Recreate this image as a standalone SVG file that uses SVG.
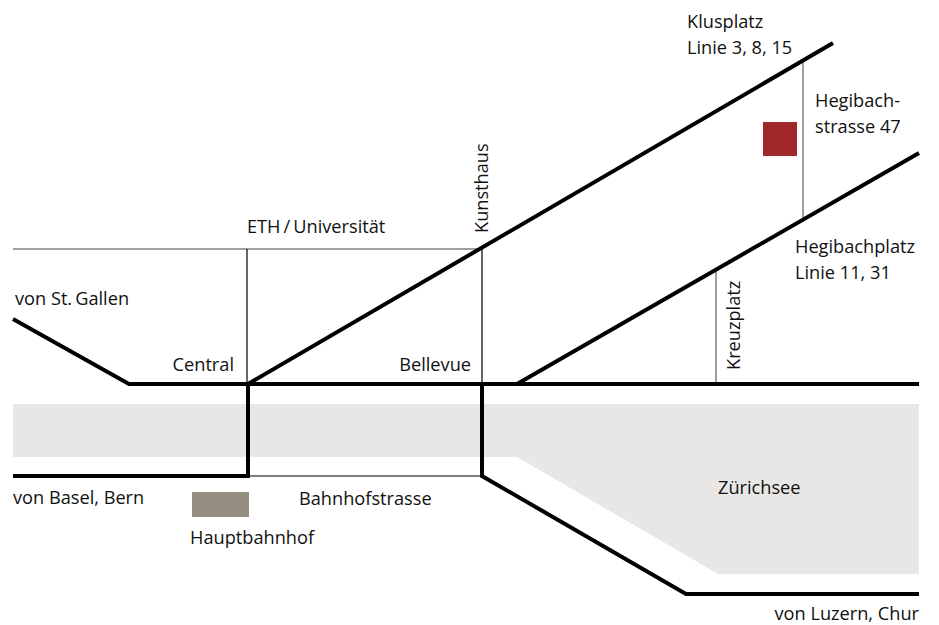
<svg xmlns="http://www.w3.org/2000/svg" width="939" height="625" viewBox="0 0 939 625">
<style>
.t{font-family:"Open Sans","Noto Sans","Liberation Sans",sans-serif;font-size:18.2px;fill:#111}
.k{fill:none;stroke:#000;stroke-width:4;stroke-linejoin:miter}
.n{fill:none;stroke:#000;stroke-width:1.2}
.g{fill:none;stroke:#808080;stroke-width:1.5}
</style>
<rect width="939" height="625" fill="#fff"/>
<g id="lake">
<polygon points="13,404 919,404 919,574 718,574 517,457 13,457" fill="#e8e7e5"/>
<text class="t" x="718" y="494">Zürichsee</text>
</g>
<g id="connectors">
<line class="g" x1="13" y1="249" x2="482" y2="249"/>
<line class="n" x1="247" y1="249" x2="247" y2="384"/>
<line class="n" x1="482" y1="249" x2="482" y2="384"/>
<line class="g" x1="716" y1="270" x2="716" y2="384"/>
<line class="g" x1="803" y1="61" x2="803" y2="219"/>
<line class="n" x1="248" y1="476" x2="482" y2="476"/>
<polyline class="k" points="13,319 129,384 919,384"/>
<line class="k" x1="248" y1="384" x2="833" y2="43"/>
<line class="k" x1="517" y1="384" x2="919" y2="153"/>
<polyline class="k" points="13,476 248,476 248,384"/>
<polyline class="k" points="482,384 482,476 686,594 919,594"/>
</g>
<g id="hegibachstrasse">
<rect x="763" y="122" width="34" height="34" fill="#a0282a"/>
<text class="t" x="815" y="107">Hegibach-</text>
<text class="t" x="815" y="133">strasse 47</text>
</g>
<g id="hauptbahnhof">
<rect x="192" y="492" width="57" height="25" fill="#948f81"/>
<text class="t" x="190" y="544">Hauptbahnhof</text>
</g>
<g id="klusplatz">
<text class="t" x="687" y="28">Klusplatz</text>
<text class="t" x="687" y="54">Linie 3, 8, 15</text>
</g>
<g id="hegibachplatz">
<text class="t" x="795" y="253">Hegibachplatz</text>
<text class="t" x="795" y="279">Linie 11, 31</text>
</g>
<g id="eth"><text class="t" x="247" y="233">ETH&#8201;/&#8201;Universität</text></g>
<g id="kunsthaus"><text class="t" transform="translate(488,233) rotate(-90)">Kunsthaus</text></g>
<g id="kreuzplatz"><text class="t" transform="translate(740,370) rotate(-90)">Kreuzplatz</text></g>
<g id="stgallen"><text class="t" x="15" y="305">von St.&#8201;Gallen</text></g>
<g id="central"><text class="t" x="234" y="371" text-anchor="end">Central</text></g>
<g id="bellevue"><text class="t" x="471" y="371" text-anchor="end">Bellevue</text></g>
<g id="basel"><text class="t" x="13" y="504">von Basel, Bern</text></g>
<g id="bahnhofstrasse"><text class="t" x="299" y="505">Bahnhofstrasse</text></g>
<g id="luzern"><text class="t" x="919" y="620" text-anchor="end">von Luzern, Chur</text></g>
</svg>
